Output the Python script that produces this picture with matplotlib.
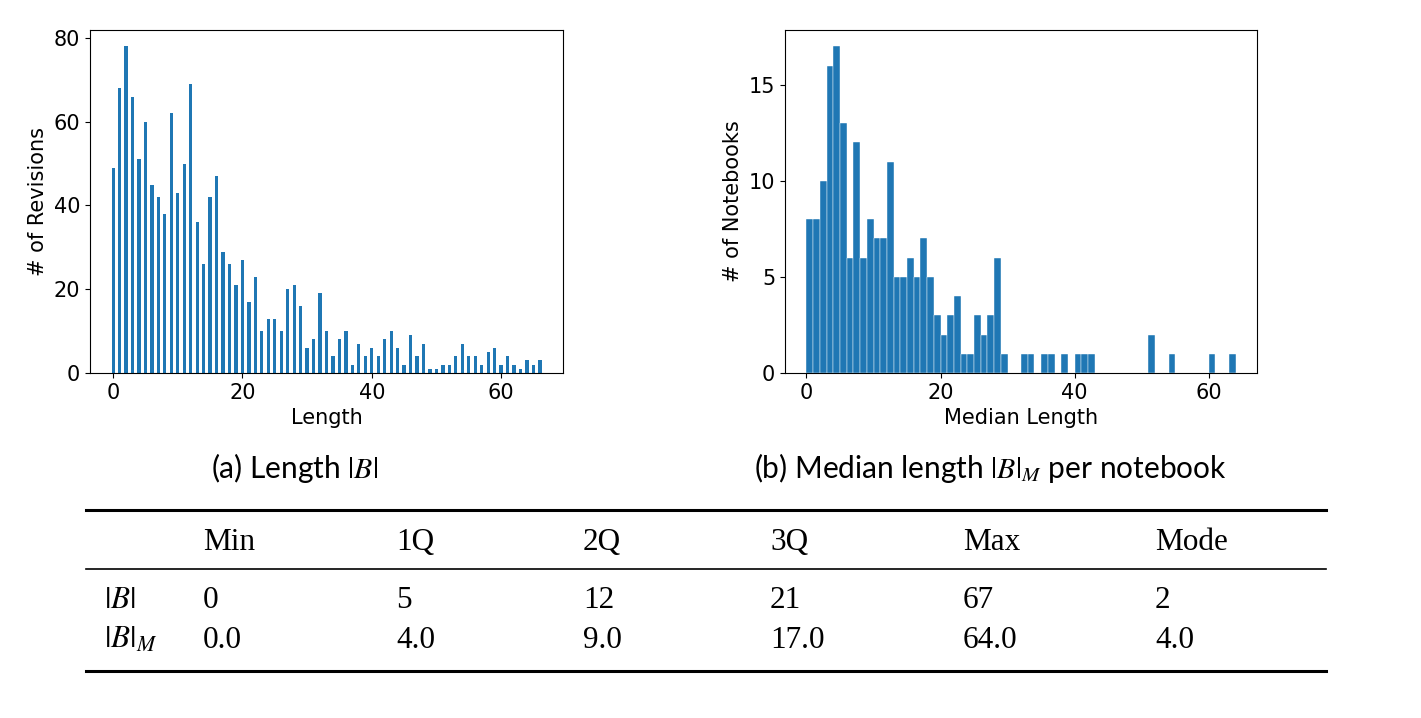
import matplotlib.pyplot as plt
import numpy as np

plt.rcParams['font.size'] = 15
plt.rcParams['mathtext.fontset'] = 'stix'

# revisions per length |B| (one bar per integer length 0..66)
rev_counts = [49, 68, 78, 66, 51, 60, 45, 42, 38, 62,
              43, 50, 69, 36, 26, 42, 47, 29, 26, 21,
              27, 17, 23, 10, 13, 13, 10, 20, 21, 16,
              6, 8, 19, 10, 4, 8, 10, 2, 7, 4,
              6, 4, 8, 10, 6, 2, 9, 4, 7, 1,
              1, 2, 2, 4, 7, 4, 4, 2, 5, 6,
              2, 4, 2, 1, 3, 2, 3]
rev_lengths = np.arange(len(rev_counts))

# notebooks per median length bin (bins of width 1 from 0 to 64)
nb_counts = [8, 8, 10, 16, 17, 13, 6, 12, 6, 8,
             7, 7, 11, 5, 5, 6, 5, 7, 5, 3,
             2, 3, 4, 1, 1, 3, 2, 3, 6, 1,
             0, 0, 1, 1, 0, 1, 1, 0, 1, 0,
             1, 1, 1, 0, 0, 0, 0, 0, 0, 0,
             0, 2, 0, 0, 1, 0, 0, 0, 0, 0,
             1, 0, 0, 1]
nb_edges = np.arange(len(nb_counts) + 1)

# summary table
col_names = ['', 'Min', '1Q', '2Q', '3Q', 'Max', 'Mode']
row_b = ['$|B|$', '0', '5', '12', '21', '67', '2']
row_bm = ['$|B|_M$', '0.0', '4.0', '9.0', '17.0', '64.0', '4.0']

W, H = 1421, 718
fig = plt.figure(figsize=(W / 100, H / 100), dpi=100)

# left: length histogram
ax1 = fig.add_axes([90 / W, 1 - 373 / H, 473 / W, 343 / H])
ax1.bar(rev_lengths, rev_counts, width=0.5, color='#1f77b4')
ax1.set_xticks([0, 20, 40, 60])
ax1.set_yticks([0, 20, 40, 60, 80])
ax1.set_xlabel('Length', labelpad=4)
ax1.set_ylabel('# of Revisions', labelpad=4)

# right: median length histogram
ax2 = fig.add_axes([785 / W, 1 - 373 / H, 472 / W, 343 / H])
ax2.hist(nb_edges[:-1], bins=nb_edges, weights=nb_counts, color='#1f77b4',
         edgecolor='white', linewidth=0.3)
ax2.set_xticks([0, 20, 40, 60])
ax2.set_yticks([0, 5, 10, 15])
ax2.set_xlabel('Median Length', labelpad=4)
ax2.set_ylabel('# of Notebooks', labelpad=4)

# captions
cap_font = ['Lato', 'DejaVu Sans']
fig.text(295 / W, 1 - 468 / H, '(a) Length $|B|$', ha='center', va='center',
         fontsize=21.5, family=cap_font)
fig.text(990 / W, 1 - 468 / H, '(b) Median length $|B|_M$ per notebook',
         ha='center', va='center', fontsize=21.5, family=cap_font)

# table drawn in pixel coordinates of the figure
tab = fig.add_axes([0, 0, 1, 1])
tab.set_xlim(0, W)
tab.set_ylim(H, 0)
tab.axis('off')
tab.plot([86, 1326], [510, 510], color='black', lw=2.2)
tab.plot([86, 1326], [569, 569], color='black', lw=1.2)
tab.plot([86, 1326], [671, 671], color='black', lw=2.2)
col_x = [104, 203, 396, 583, 770, 963, 1155]
tfont = dict(family='Liberation Serif', fontsize=22.5, va='baseline', ha='left')
for x, s in zip(col_x, col_names):
    tab.text(x, 550, s, **tfont)
for x, s in zip(col_x, row_b):
    tab.text(x, 608, s, **tfont)
for x, s in zip(col_x, row_bm):
    tab.text(x, 648, s, **tfont)

fig.savefig('out.png', dpi=100)
